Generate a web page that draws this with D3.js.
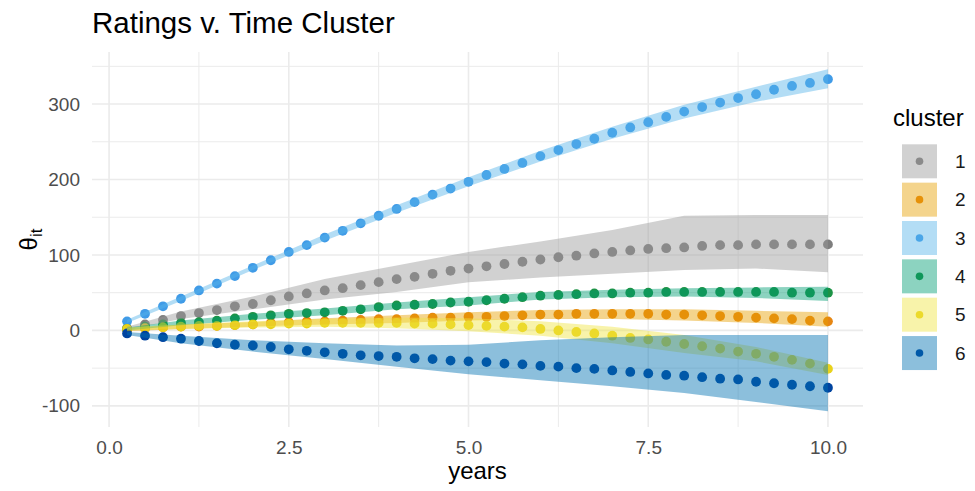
<!DOCTYPE html>
<html lang="en">
<head>
<meta charset="utf-8">
<style>
    body {
        margin: 0;
        background: #fff;
    }
    svg {
        font-family: "Liberation Sans", Arial, sans-serif;
    }
    .grid line {
        stroke: #ebebeb;
    }
    .axis text {
        fill: #4d4d4d;
        font-size: 19px;
    }
    .axis path, .axis line {
        display: none;
    }
</style>
<script src="https://d3js.org/d3.v7.min.js"></script>
</head>
<body>
<svg width="975" height="491"></svg>
<script>

    // ---- data ----
    var years = [0.25, 0.5, 0.75, 1, 1.25, 1.5, 1.75, 2, 2.25, 2.5,
                 2.75, 3, 3.25, 3.5, 3.75, 4, 4.25, 4.5, 4.75, 5,
                 5.25, 5.5, 5.75, 6, 6.25, 6.5, 6.75, 7, 7.25, 7.5,
                 7.75, 8, 8.25, 8.5, 8.75, 9, 9.25, 9.5, 9.75, 10];

    var clusters = ["1", "2", "3", "4", "5", "6"];

    var theta1 = [3, 8, 14, 19, 23, 27, 32, 35, 40, 45, 49, 53, 56, 60, 64, 68, 71, 75, 79, 82,
                  85, 88, 91, 94, 97, 99, 102, 104, 106, 108, 109, 110, 112, 113, 113, 114, 114, 114, 114, 114];
    var theta2 = [1, 3, 4, 5, 5, 6, 7, 8, 10, 11, 12, 12, 13, 14, 15, 15, 16, 17, 17, 18,
                  18, 19, 20, 21, 21, 22, 22, 22, 22, 22, 21, 21, 20, 19, 18, 17, 16, 15, 13, 12];
    var theta3 = [12, 22, 32, 42, 53, 62, 72, 83, 93, 104, 113, 123, 132, 142, 152, 161, 170, 180, 188, 197,
                  206, 214, 222, 231, 239, 247, 254, 262, 269, 276, 283, 290, 296, 302, 308, 313, 319, 324, 328, 333];
    var theta4 = [2, 5, 8, 10, 11, 13, 16, 18, 20, 22, 23, 24, 26, 28, 31, 33, 34, 35, 37, 38,
                  40, 42, 44, 46, 47, 48, 49, 49, 50, 50, 51, 51, 51, 51, 51, 51, 51, 50, 50, 50];
    var theta5 = [2, 3, 4, 5, 6, 6, 7, 8, 8, 9, 9, 10, 10, 10, 10, 10, 9, 9, 8, 7,
                  6, 5, 4, 2, 0, -2, -4, -7, -10, -12, -15, -18, -21, -24, -28, -31, -35, -39, -44, -51];
    var theta6 = [-4, -7, -9, -11, -14, -17, -19, -20, -22, -25, -27, -29, -31, -33, -34, -35, -37, -38, -40, -41,
                  -42, -44, -45, -47, -48, -50, -51, -53, -55, -57, -59, -60, -62, -64, -65, -68, -70, -72, -74, -76];

    // ribbon bounds at a coarser set of years
    var bandYears = [0.25, 1, 2, 3, 4, 5, 6, 7, 8, 9, 10];
    var low1  = [1, 15, 28, 41, 51, 64, 70, 75, 80, 82, 77];
    var high1 = [5, 25, 45, 68, 86, 104, 118, 133, 152, 153, 153];
    var low2  = [-1, 2, 5, 8, 10, 13, 15, 15, 13, 10, 5];
    var high2 = [3, 8, 11, 16, 20, 24, 27, 28, 28, 26, 24];
    var low3  = [10, 39, 80, 119, 156, 191, 224, 254, 281, 303, 321];
    var high3 = [14, 45, 86, 127, 166, 203, 238, 270, 299, 323, 346];
    var low4  = [0, 7, 14, 20, 28, 33, 41, 44, 45, 43, 39];
    var high4 = [4, 13, 22, 29, 37, 44, 51, 54, 56, 57, 58];
    var low5  = [0, 2, 4, 5, 3, -1, -7, -17, -30, -41, -59];
    var high5 = [4, 8, 12, 15, 17, 16, 12, 5, -6, -22, -43];
    var low6  = [-6, -17, -28, -38, -48, -58, -66, -74, -83, -95, -107];
    var high6 = [-2, -7, -13, -17, -20, -19, -13, -9, -6, -6, -6];

    var xTicks = [0, 2.5, 5, 7.5, 10];
    var xMinor = [1.25, 3.75, 6.25, 8.75];
    var yTicks = [-100, 0, 100, 200, 300];
    var yMinor = [-50, 50, 150, 250, 350];

    // ---- colours ----
    var bandColor = ["#999999", "#E69F00", "#56B4E9", "#009E73", "#F0E442", "#0072B2"];
    var dotColor  = ["#7e7e7e", "#e68612", "#409be7", "#1d9346", "#e9d21a", "#0044a0"];
    var bandAlpha = 0.45;

    var thetas = [theta1, theta2, theta3, theta4, theta5, theta6];
    var lows = [low1, low2, low3, low4, low5, low6];
    var highs = [high1, high2, high3, high4, high5, high6];

    var series = clusters.map(function(c, i) {
        return {
            cluster: c,
            points: years.map(function(yr, j) { return {year: yr, theta: thetas[i][j]}; }),
            band: bandYears.map(function(yr, j) { return {year: yr, lo: lows[i][j], hi: highs[i][j]}; })
        };
    });

    var svg = d3.select("svg");

    var panel = {left: 92, right: 863, top: 52, bottom: 427};

    var x = d3.scaleLinear()
        .domain([-0.2375, 10.4875])
        .range([panel.left, panel.right]);

    var y = d3.scaleLinear()
        .domain([-128, 369])
        .range([panel.bottom, panel.top]);

    // grid
    var grid = svg.append("g").attr("class", "grid");

    grid.selectAll(".yminor").data(yMinor).enter().append("line")
        .attr("x1", panel.left).attr("x2", panel.right)
        .attr("y1", function(d) { return y(d); }).attr("y2", function(d) { return y(d); })
        .attr("stroke-width", 1);
    grid.selectAll(".xminor").data(xMinor).enter().append("line")
        .attr("y1", panel.top).attr("y2", panel.bottom)
        .attr("x1", function(d) { return x(d); }).attr("x2", function(d) { return x(d); })
        .attr("stroke-width", 1);
    grid.selectAll(".ymajor").data(yTicks).enter().append("line")
        .attr("x1", panel.left).attr("x2", panel.right)
        .attr("y1", function(d) { return y(d); }).attr("y2", function(d) { return y(d); })
        .attr("stroke-width", 1.6);
    grid.selectAll(".xmajor").data(xTicks).enter().append("line")
        .attr("y1", panel.top).attr("y2", panel.bottom)
        .attr("x1", function(d) { return x(d); }).attr("x2", function(d) { return x(d); })
        .attr("stroke-width", 1.6);

    // points first, the ribbons are drawn over them
    series.forEach(function(s, i) {
        svg.append("g").selectAll("circle")
            .data(s.points)
            .enter().append("circle")
            .attr("cx", function(d) { return x(d.year); })
            .attr("cy", function(d) { return y(d.theta); })
            .attr("r", 4.9)
            .attr("fill", dotColor[i]);
    });

    var area = d3.area()
        .x(function(d) { return x(d.year); })
        .y0(function(d) { return y(d.lo); })
        .y1(function(d) { return y(d.hi); });

    svg.append("g").selectAll("path")
        .data(series)
        .enter().append("path")
        .attr("d", function(d) { return area(d.band); })
        .attr("fill", function(d, i) { return bandColor[i]; })
        .attr("fill-opacity", bandAlpha);

    // axes
    svg.append("g")
        .attr("class", "axis")
        .attr("transform", "translate(0," + panel.bottom + ")")
        .call(d3.axisBottom(x).tickValues(xTicks).tickSize(0).tickPadding(14)
            .tickFormat(d3.format(".1f")));

    svg.append("g")
        .attr("class", "axis")
        .attr("transform", "translate(" + panel.left + ",0)")
        .call(d3.axisLeft(y).tickValues(yTicks).tickSize(0).tickPadding(12)
            .tickFormat(function(d) { return String(d); }));

    // titles
    svg.append("text")
        .attr("x", 92)
        .attr("y", 33)
        .style("font-size", "29.5px")
        .style("fill", "#000")
        .text("Ratings v. Time Cluster");

    svg.append("text")
        .attr("x", (panel.left + panel.right) / 2)
        .attr("y", 479)
        .attr("text-anchor", "middle")
        .style("font-size", "24px")
        .text("years");

    var ylab = svg.append("text")
        .attr("transform", "translate(37," + (panel.top + panel.bottom) / 2 + ") rotate(-90)")
        .attr("text-anchor", "middle")
        .style("font-size", "24px");
    ylab.append("tspan").text("θ");
    ylab.append("tspan").attr("dy", "0.3em").style("font-size", "17px").text("it");

    // legend
    var legend = svg.append("g").attr("transform", "translate(893,0)");

    legend.append("text")
        .attr("x", 0)
        .attr("y", 126)
        .style("font-size", "24px")
        .text("cluster");

    var key = legend.selectAll(".key")
        .data(clusters)
        .enter().append("g")
        .attr("class", "key")
        .attr("transform", function(d, i) { return "translate(9," + (144.3 + i * 38.35) + ")"; });

    key.append("circle")
        .attr("cx", 17.5)
        .attr("cy", 17)
        .attr("r", 3.8)
        .attr("fill", function(d, i) { return dotColor[i]; });

    key.append("rect")
        .attr("width", 35)
        .attr("height", 34)
        .attr("fill", function(d, i) { return bandColor[i]; })
        .attr("fill-opacity", bandAlpha);

    key.append("text")
        .attr("x", 53)
        .attr("y", 17)
        .attr("dy", "0.35em")
        .style("font-size", "19px")
        .style("fill", "#1a1a1a")
        .text(function(d) { return d; });

</script>
</body>
</html>
